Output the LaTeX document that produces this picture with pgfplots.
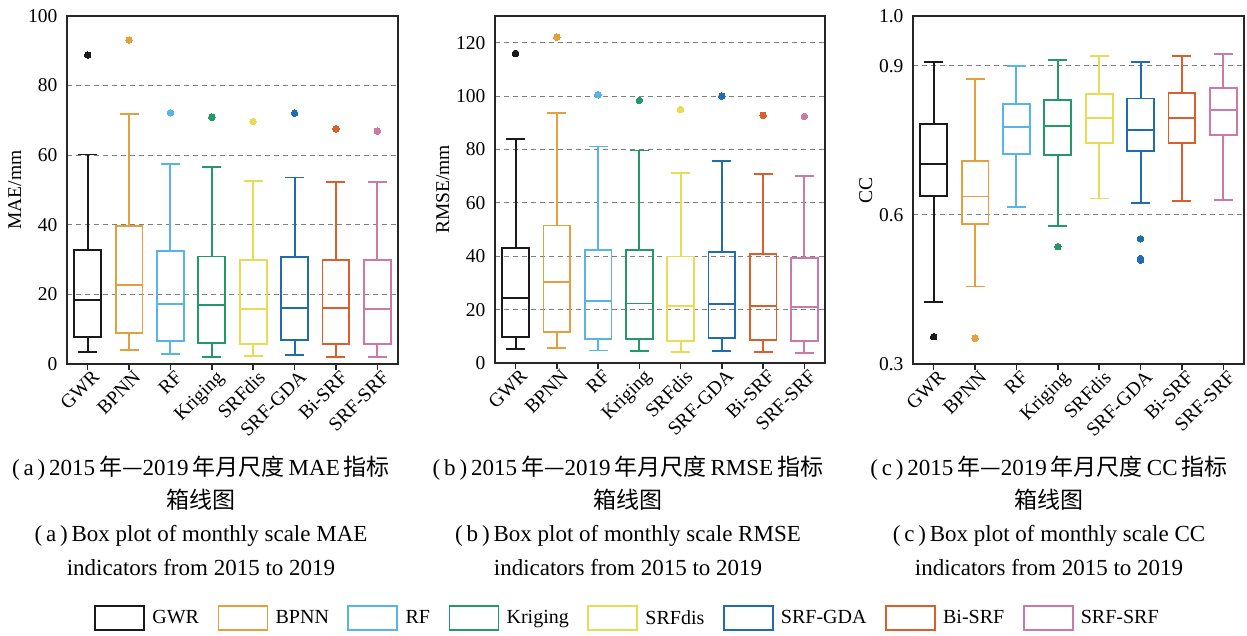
\documentclass[border=0pt]{standalone}
\usepackage{fontspec}
\setmainfont{Liberation Serif}
\newfontfamily\cjk{Noto Sans CJK SC}
\usepackage{pgfplots}
\pgfplotsset{compat=1.18}
\usepgfplotslibrary{statistics}
\definecolor{cGWR}{HTML}{1A1A1A}
\definecolor{cBPNN}{HTML}{E59F3C}
\definecolor{cRF}{HTML}{56B4E9}
\definecolor{cKri}{HTML}{23996B}
\definecolor{cDis}{HTML}{E8DC55}
\definecolor{cGDA}{HTML}{1F6DAF}
\definecolor{cBi}{HTML}{D95F2B}
\definecolor{cSS}{HTML}{CC79A7}
\newcommand\tickfont{\fontsize{19.5bp}{22bp}\selectfont}
\newcommand\capfont{\fontsize{23bp}{26bp}\selectfont}
\newcommand\cs{\hspace{4bp}}
\pgfplotsset{
  panel/.style={
    width=331bp, height=348bp, scale only axis,
    xmin=0.5, xmax=8.5, xtick={1,...,8}, xtick pos=bottom,
    xticklabels={GWR,BPNN,RF,Kriging,SRFdis,SRF-GDA,Bi-SRF,SRF-SRF},
    x tick label style={rotate=45, anchor=north east, font=\tickfont, inner sep=2bp, xshift=5bp},
    y tick label style={font=\tickfont},
    ylabel style={font=\tickfont},
    /pgf/number format/assume math mode=true,
    axis line style={line width=1.6bp, color=black!85},
    tick align=outside, major tick length=6bp,
    xtick style={line width=1.6bp, color=black!85},
    ytick style={draw=none},
    ymajorgrids,
    grid style={gray, line width=1bp, dash pattern=on 5bp off 4bp},
    boxplot/draw direction=y,
    boxplot/box extend=0.65, boxplot/whisker extend=0.46,
  },
  legbox/.style={legend image code/.code={\draw[line width=1.8bp,##1] (0bp,-12bp) rectangle (49bp,12bp); \path (55bp,0bp);}},
}
\newcommand\bp[8]{%
  \addplot[#1, line width=1.9bp, forget plot, mark=*, mark size=3.3bp,
    mark options={fill=#1, draw=#1, line width=0pt, solid},
    boxplot prepared={draw position=#2, lower whisker=#3, lower quartile=#4,
      median=#5, upper quartile=#6, upper whisker=#7}] coordinates {#8};
}
\begin{document}
\begin{tikzpicture}
\path[use as bounding box] (0,0) rectangle (1247bp,-636bp);
% (a) MAE
\begin{axis}[panel, at={(67bp,-364bp)}, anchor=south west,
  ymin=0, ymax=100, ytick={0,20,...,100}, ylabel={MAE/mm}]
\bp{cGWR}{1}{3.5}{7.7}{18.4}{32.8}{60.2}{(0,88.8)}
\bp{cBPNN}{2}{4.0}{9.0}{22.7}{39.6}{71.8}{(0,93.1)}
\bp{cRF}{3}{3.0}{6.5}{17.2}{32.4}{57.4}{(0,72.2)}
\bp{cKri}{4}{2.1}{6.0}{16.9}{30.9}{56.5}{(0,70.9)}
\bp{cDis}{5}{2.2}{5.8}{15.8}{29.9}{52.5}{(0,69.7)}
\bp{cGDA}{6}{2.7}{6.8}{16.2}{30.7}{53.6}{(0,72.1)}
\bp{cBi}{7}{2.1}{5.8}{16.0}{29.8}{52.2}{(0,67.6)}
\bp{cSS}{8}{2.1}{5.7}{15.7}{29.8}{52.4}{(0,66.9)}
\end{axis}
% (b) RMSE
\begin{axis}[panel, at={(495bp,-363bp)}, anchor=south west, width=330bp, height=347bp,
  ymin=0, ymax=130, ytick={0,20,...,120}, ylabel={RMSE/mm},
  legend columns=8,
  legend style={at={(0.4015,-0.735)}, anchor=center, draw=none, fill=none,
    font=\fontsize{20bp}{23bp}\selectfont,
    /tikz/every even column/.append style={column sep=16.5bp}},
  legend cell align=left]
\bp{cGWR}{1}{5.2}{9.7}{24.2}{43.0}{83.8}{(0,116.0)}
\bp{cBPNN}{2}{5.6}{11.7}{30.3}{51.5}{93.8}{(0,122.1)}
\bp{cRF}{3}{4.7}{9.0}{23.2}{42.3}{81.1}{(0,100.5)}
\bp{cKri}{4}{4.4}{8.9}{22.3}{42.3}{79.6}{(0,98.4)}
\bp{cDis}{5}{4.1}{8.4}{21.5}{39.9}{71.3}{(0,95.0)}
\bp{cGDA}{6}{4.4}{9.5}{22.2}{41.5}{75.7}{(0,100.0)}
\bp{cBi}{7}{4.1}{8.5}{21.5}{40.8}{70.7}{(0,92.8)}
\bp{cSS}{8}{3.9}{8.2}{21.0}{39.3}{70.2}{(0,92.4)}
\addlegendimage{legbox, cGWR}
\addlegendimage{legbox, cBPNN}
\addlegendimage{legbox, cRF}
\addlegendimage{legbox, cKri}
\addlegendimage{legbox, cDis}
\addlegendimage{legbox, cGDA}
\addlegendimage{legbox, cBi}
\addlegendimage{legbox, cSS}
\legend{GWR,BPNN,RF,Kriging,SRFdis,SRF-GDA,Bi-SRF,SRF-SRF}
\end{axis}
% (c) CC
\begin{axis}[panel, at={(913bp,-364bp)}, anchor=south west,
  ymin=0.3, ymax=1.0, ytick={0.3,0.6,0.9,1.0}, ylabel={CC},
  yticklabel style={/pgf/number format/.cd, fixed, fixed zerofill, precision=1}]
\bp{cGWR}{1}{0.425}{0.638}{0.703}{0.783}{0.907}{(0,0.355)}
\bp{cBPNN}{2}{0.456}{0.581}{0.637}{0.708}{0.874}{(0,0.352)}
\bp{cRF}{3}{0.616}{0.723}{0.776}{0.823}{0.900}{}
\bp{cKri}{4}{0.577}{0.720}{0.778}{0.831}{0.912}{(0,0.536)}
\bp{cDis}{5}{0.633}{0.744}{0.794}{0.843}{0.919}{}
\bp{cGDA}{6}{0.623}{0.729}{0.771}{0.834}{0.907}{(0,0.552)(0,0.512)(0,0.509)}
\bp{cBi}{7}{0.628}{0.744}{0.795}{0.846}{0.919}{}
\bp{cSS}{8}{0.630}{0.760}{0.811}{0.856}{0.924}{}
\end{axis}
% captions
\begin{scope}[every node/.style={anchor=base, font=\capfont, inner sep=0pt}]
\node at (201bp,-475bp) {(\,a\,)\,2015\cs{\cjk 年—}2019\cs{\cjk 年月尺度}\cs MAE\cs{\cjk 指标}};
\node at (201bp,-508bp) {\cjk 箱线图};
\node at (201bp,-541bp) {(\,a\,)\,Box plot of monthly scale MAE};
\node at (201bp,-575bp) {indicators from 2015 to 2019};
\node at (628bp,-475bp) {(\,b\,)\,2015\cs{\cjk 年—}2019\cs{\cjk 年月尺度}\cs RMSE\cs{\cjk 指标}};
\node at (628bp,-508bp) {\cjk 箱线图};
\node at (628bp,-541bp) {(\,b\,)\,Box plot of monthly scale RMSE};
\node at (628bp,-575bp) {indicators from 2015 to 2019};
\node at (1049bp,-475bp) {(\,c\,)\,2015\cs{\cjk 年—}2019\cs{\cjk 年月尺度}\cs CC\cs{\cjk 指标}};
\node at (1049bp,-508bp) {\cjk 箱线图};
\node at (1049bp,-541bp) {(\,c\,)\,Box plot of monthly scale CC};
\node at (1049bp,-575bp) {indicators from 2015 to 2019};
\end{scope}
\end{tikzpicture}
\end{document}
